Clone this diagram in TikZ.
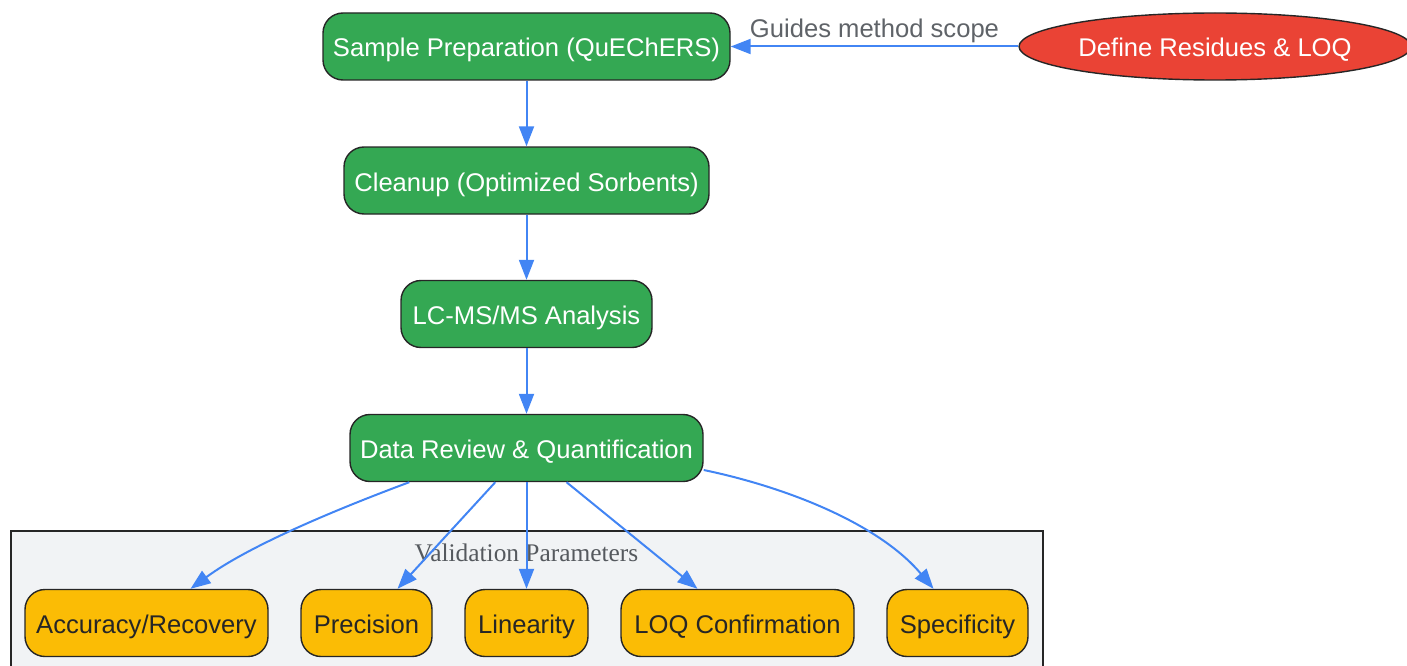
\documentclass[tikz,border=0pt]{standalone}
\usepackage{fontspec}
\setmainfont{Liberation Sans}
\newfontfamily\serifx{Liberation Serif}
\usetikzlibrary{shapes.geometric,arrows.meta}
\definecolor{gg}{HTML}{34A853}
\definecolor{rr}{HTML}{EA4335}
\definecolor{yy}{HTML}{FBBC05}
\definecolor{bb}{HTML}{4285F4}
\definecolor{clfill}{HTML}{F1F3F5}
\definecolor{lbl}{HTML}{5F6368}
\tikzset{
  base/.style={draw=black!85, line width=1.4pt, rounded corners=20pt, inner sep=0pt,
    minimum height=67pt, text height=26pt, text depth=5pt,
    font=\fontsize{25.6}{30}\selectfont, align=center},
  greenbox/.style={base, fill=gg, text=white},
  yellowbox/.style={base, fill=yy, text=black!85},
  redell/.style={ellipse, draw=black!85, line width=1.4pt, fill=rr, text=white, inner sep=0pt,
    minimum width=392pt, minimum height=67pt, text height=26pt, text depth=5pt,
    font=\fontsize{25.6}{30}\selectfont},
  arr/.style={draw=bb, line width=2pt, -{Triangle[length=20pt,width=15pt]}},
}
\begin{document}
\begin{tikzpicture}[x=1pt,y=-1pt]
\useasboundingbox (0,0) rectangle (1407,666);
% cluster
\node[draw=black!85, line width=1.6pt, fill=clfill, minimum width=1032pt, minimum height=150pt,
  inner sep=0pt, anchor=north west] (cl) at (10,530) {};
\node[font=\serifx\fontsize{25.4}{30}\selectfont, text=lbl!90!black] (cllbl) at (526.5,553) {Validation Parameters};
% main nodes
\node[greenbox, minimum width=407pt] (sp) at (526.5,46.5) {Sample Preparation (QuEChERS)};
\node[greenbox, minimum width=365pt] (cu) at (526.5,180.5) {Cleanup (Optimized Sorbents)};
\node[greenbox, minimum width=251pt] (lc) at (526.5,314) {LC-MS/MS Analysis};
\node[greenbox, minimum width=353pt] (dr) at (526.5,448) {Data Review \& Quantification};
\node[redell] (def) at (1215,46.5) {Define Residues \& LOQ};
% validation nodes
\node[yellowbox, minimum width=243pt] (acc) at (146.5,623) {Accuracy/Recovery};
\node[yellowbox, minimum width=131pt] (pre) at (366.5,623) {Precision};
\node[yellowbox, minimum width=123pt] (lin) at (526.5,623) {Linearity};
\node[yellowbox, minimum width=233pt] (loq) at (737.5,623) {LOQ Confirmation};
\node[yellowbox, minimum width=141pt] (spe) at (957.5,623) {Specificity};
% edges
\draw[arr] (def.west) -- node[above, pos=0.5, yshift=-1pt, text=lbl, font=\fontsize{25.6}{30}\selectfont] (glbl) {Guides method scope} (sp.east);
\draw[arr] (sp.south) -- (cu.north);
\draw[arr] (cu.south) -- (lc.north);
\draw[arr] (lc.south) -- (dr.north);
\draw[arr] ([xshift=60pt]dr.south west) .. controls (340,508) and (250,545) .. ([xshift=44pt]acc.north);
\draw[arr] ([xshift=146pt]dr.south west) -- ([xshift=31pt]pre.north);
\draw[arr] (dr.south) -- (lin.north);
\draw[arr] ([xshift=40pt]dr.south) -- ([xshift=-40pt]loq.north);
\draw[arr] ([yshift=-22pt]dr.east) .. controls (790,488) and (880,525) .. ([xshift=-24pt]spe.north);
\end{tikzpicture}
\end{document}
